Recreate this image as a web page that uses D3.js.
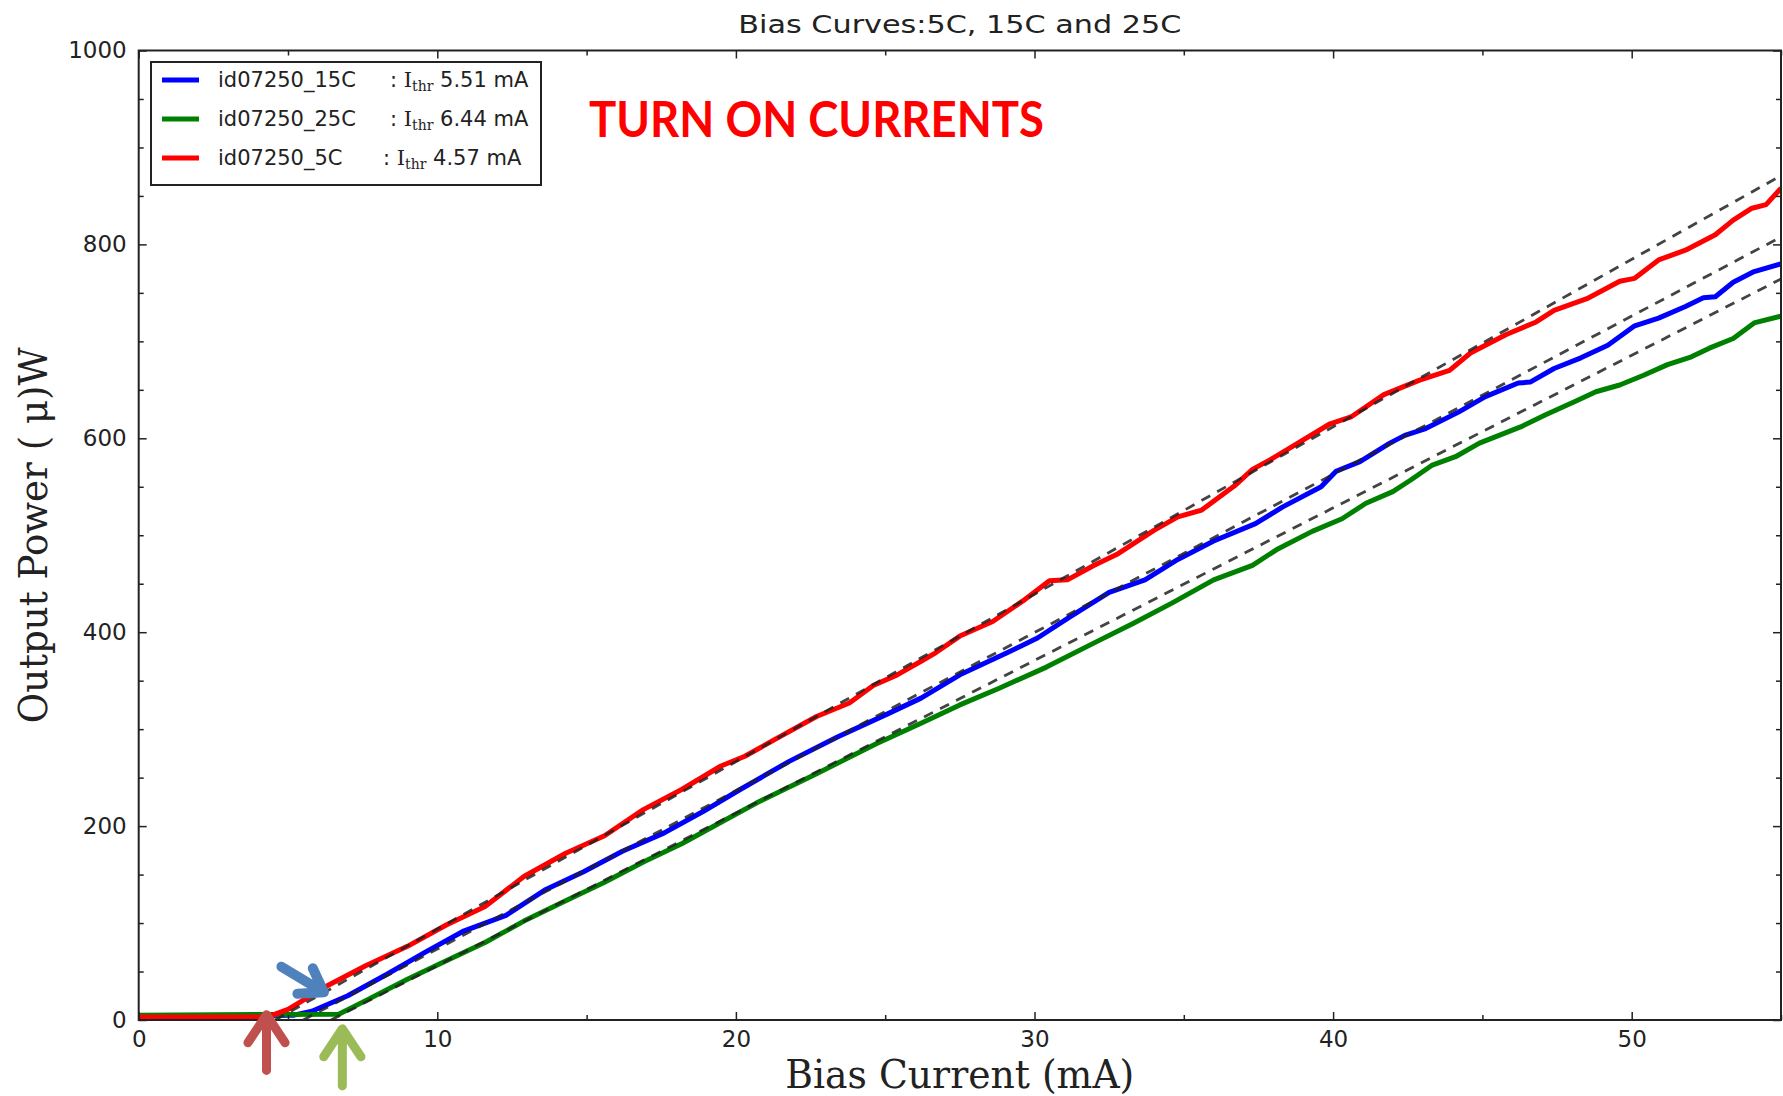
<!DOCTYPE html>
<html>
<head>
<meta charset="utf-8">
<script src="https://cdn.jsdelivr.net/npm/d3@7"></script>
<style>
  body { margin: 0; background: #fff; }
  svg { display: block; }
</style>
</head>
<body>
<svg id="chart" width="1783" height="1096"></svg>
<script>
// bias current (mA) and output power (uW)
var blueI = [0, 5.2, 5.8, 7.0, 8.3, 9.6, 10.9, 12.3, 13.6, 14.9, 16.2, 17.6, 18.9, 20.1, 21.8, 23.4, 25.1, 26.2, 27.5, 29.1, 30.1, 31.2, 32.5, 33.7, 34.8, 36.0, 37.4, 38.3, 39.6, 40.1, 40.9, 41.9, 42.4, 43.1, 44.2, 45.1, 46.2, 46.6, 47.4, 48.3, 49.2, 50.1, 50.9, 51.8, 52.4, 52.8, 53.4, 54.1, 55]
var blueP = [4, 5, 9, 25, 47, 70, 92, 108, 134, 153, 174, 193, 215, 237, 267, 292, 316, 332, 356, 379, 394, 416, 441, 454, 475, 494, 512, 529, 550, 566, 576, 595, 603, 610, 627, 643, 657, 658, 672, 683, 696, 716, 724, 736, 745, 746, 761, 772, 780]

var greenI = [0, 6.7, 7.6, 9.0, 10.3, 11.6, 12.9, 14.3, 15.6, 16.9, 18.2, 19.5, 20.7, 22.7, 24.7, 26.2, 27.5, 28.8, 30.4, 32.0, 33.3, 34.6, 36.0, 37.3, 38.1, 39.3, 40.3, 41.1, 42.0, 42.6, 43.3, 44.1, 44.9, 46.3, 47.1, 48.1, 48.8, 49.6, 50.4, 51.2, 52.0, 52.6, 53.4, 54.1, 55]
var greenP = [5, 6, 20, 42, 61, 80, 102, 123, 142, 163, 182, 204, 224, 254, 285, 306, 325, 342, 364, 389, 409, 430, 454, 469, 485, 504, 517, 533, 545, 557, 572, 581, 595, 612, 624, 638, 648, 655, 665, 676, 684, 693, 703, 719, 726]

var redI = [0, 4.3, 5.0, 6.3, 7.6, 9.0, 10.3, 11.6, 12.9, 14.3, 15.6, 16.9, 18.2, 19.5, 20.3, 21.4, 22.7, 23.8, 24.6, 25.4, 26.2, 26.7, 27.5, 28.6, 29.6, 30.5, 31.1, 32.0, 32.8, 34.0, 34.8, 35.6, 36.7, 37.3, 37.9, 38.6, 39.9, 40.6, 41.7, 42.9, 43.9, 44.6, 45.8, 46.8, 47.4, 48.5, 49.6, 50.1, 50.9, 51.8, 52.8, 53.4, 54.0, 54.5, 55]
var redP = [3, 3, 11, 35, 56, 76, 98, 117, 148, 172, 190, 217, 238, 262, 272, 291, 313, 327, 345, 356, 370, 379, 396, 411, 432, 453, 454, 469, 481, 505, 519, 526, 551, 568, 578, 591, 615, 622, 645, 660, 670, 688, 707, 720, 732, 744, 762, 765, 784, 794, 810, 825, 837, 841, 858]

var names = ['id07250_15C', 'id07250_25C', 'id07250_5C']
var thresholds = [5.51, 6.44, 4.57]
var fitSlopes = [16.32, 15.74, 17.27]
var colors = ['#0000ff', '#008000', '#ff0000']

var xTicks = [0, 5, 10, 15, 20, 25, 30, 35, 40, 45, 50, 55]
var xLabels = [0, 10, 20, 30, 40, 50]
var yTicks = d3.range(0, 1001, 50)
var yLabels = [0, 200, 400, 600, 800, 1000]

// annotation arrows: [tailI, tailP, tipI, tipP, colour]
var arrows = [
  [4.28, -52, 4.28, 7.5, '#c0504d'],
  [6.82, -68, 6.82, -7, '#9bbb59'],
  [4.78, 55, 6.26, 27.5, '#4f81bd']
]

var series = [
  blueI.map(function(d, i) { return [d, blueP[i]] }),
  greenI.map(function(d, i) { return [d, greenP[i]] }),
  redI.map(function(d, i) { return [d, redP[i]] })
]

var plotL = 138.7, plotR = 1781, plotT = 50.5, plotB = 1020

var x = d3.scaleLinear().domain([0, 55]).range([plotL, plotR])
var y = d3.scaleLinear().domain([0, 1000]).range([plotB, plotT])

var svg = d3.select('#chart')

svg.append('defs').append('clipPath').attr('id', 'plotclip')
  .append('rect')
    .attr('x', plotL).attr('y', plotT)
    .attr('width', plotR - plotL).attr('height', plotB - plotT)

var line = d3.line()
  .x(function(d) { return x(d[0]) })
  .y(function(d) { return y(d[1]) })

var plot = svg.append('g').attr('clip-path', 'url(#plotclip)')

plot.selectAll('path.curve')
  .data(series)
  .enter().append('path')
    .attr('class', 'curve')
    .attr('d', line)
    .attr('fill', 'none')
    .attr('stroke', function(d, i) { return colors[i] })
    .attr('stroke-width', 5)
    .attr('stroke-linejoin', 'round')

plot.selectAll('path.fit')
  .data(thresholds)
  .enter().append('path')
    .attr('class', 'fit')
    .attr('d', function(t, i) { return line([[t, 0], [55, fitSlopes[i] * (55 - t)]]) })
    .attr('fill', 'none')
    .attr('stroke', '#222')
    .attr('stroke-opacity', 0.85)
    .attr('stroke-width', 2.8)
    .attr('stroke-dasharray', '10,8')

// frame
svg.append('rect')
  .attr('x', plotL).attr('y', plotT)
  .attr('width', plotR - plotL).attr('height', plotB - plotT)
  .attr('fill', 'none')
  .attr('stroke', '#222')
  .attr('stroke-width', 2)

// inward ticks on all sides
function tickLen(v, labels, big, small) { return labels.indexOf(v) >= 0 ? big : small }

var bottomAxis = d3.axisBottom(x).tickValues(xTicks).tickSizeOuter(0)
  .tickSizeInner(-8).tickPadding(11)
  .tickFormat(function(d) { return xLabels.indexOf(d) >= 0 ? d : '' })
var gx = svg.append('g').attr('transform', 'translate(0,' + plotB + ')').call(bottomAxis)
gx.select('.domain').remove()
gx.selectAll('.tick line').attr('y2', function(d) { return -tickLen(d, xLabels, 8, 5) })

var topAxis = d3.axisTop(x).tickValues(xTicks).tickSizeOuter(0).tickFormat('')
var gxt = svg.append('g').attr('transform', 'translate(0,' + plotT + ')').call(topAxis)
gxt.select('.domain').remove()
gxt.selectAll('.tick line').attr('y2', function(d) { return tickLen(d, xLabels, 8, 5) })

var leftAxis = d3.axisLeft(y).tickValues(yTicks).tickSizeOuter(0)
  .tickFormat(function(d) { return yLabels.indexOf(d) >= 0 ? d : '' })
var gy = svg.append('g').attr('transform', 'translate(' + plotL + ',0)').call(leftAxis)
gy.select('.domain').remove()
gy.selectAll('.tick line').attr('x2', function(d) { return tickLen(d, yLabels, 8, 5) })

var rightAxis = d3.axisRight(y).tickValues(yTicks).tickSizeOuter(0).tickFormat('')
var gyr = svg.append('g').attr('transform', 'translate(' + plotR + ',0)').call(rightAxis)
gyr.select('.domain').remove()
gyr.selectAll('.tick line').attr('x2', function(d) { return -tickLen(d, yLabels, 8, 5) })

svg.selectAll('.tick line').attr('stroke', '#222').attr('stroke-width', 1.5)
svg.selectAll('.tick text')
  .attr('font-family', 'DejaVu Sans')
  .attr('font-size', 23)
  .attr('fill', '#222')
gy.selectAll('.tick text').attr('x', -12)

// title and axis labels
svg.append('text')
  .attr('x', (plotL + plotR) / 2).attr('y', 33)
  .attr('text-anchor', 'middle')
  .attr('font-family', 'DejaVu Sans').attr('font-size', 25)
  .attr('fill', '#222')
  .attr('textLength', 443).attr('lengthAdjust', 'spacingAndGlyphs')
  .text('Bias Curves:5C, 15C and 25C')

svg.append('text')
  .attr('x', (plotL + plotR) / 2).attr('y', 1088)
  .attr('text-anchor', 'middle')
  .attr('font-family', 'DejaVu Serif').attr('font-size', 39)
  .attr('fill', '#222')
  .attr('textLength', 349).attr('lengthAdjust', 'spacingAndGlyphs')
  .text('Bias Current (mA)')

svg.append('text')
  .attr('transform', 'translate(47,' + (plotT + plotB) / 2 + ') rotate(-90)')
  .attr('text-anchor', 'middle')
  .attr('font-family', 'DejaVu Serif').attr('font-size', 39)
  .attr('fill', '#222')
  .attr('textLength', 376).attr('lengthAdjust', 'spacingAndGlyphs')
  .text('Output Power ( \u03bc)W')

svg.append('text')
  .attr('x', 589).attr('y', 137)
  .attr('font-family', 'Lato').attr('font-weight', 'bold').attr('font-size', 50)
  .attr('fill', '#ff0000')
  .attr('textLength', 455).attr('lengthAdjust', 'spacingAndGlyphs')
  .text('TURN ON CURRENTS')

// legend
var legend = svg.append('g')
legend.append('rect')
  .attr('x', 151).attr('y', 62).attr('width', 390).attr('height', 123)
  .attr('fill', '#fff').attr('stroke', '#222').attr('stroke-width', 2)

var rows = legend.selectAll('g.row')
  .data(names)
  .enter().append('g')
    .attr('class', 'row')
    .attr('transform', function(d, i) { return 'translate(0,' + (80 + i * 39) + ')' })

rows.append('line')
  .attr('x1', 162).attr('x2', 199)
  .attr('stroke', function(d, i) { return colors[i] })
  .attr('stroke-width', 5)

rows.append('text')
  .attr('x', 218).attr('y', 7)
  .attr('font-family', 'DejaVu Sans').attr('font-size', 21)
  .attr('fill', '#222')
  .text(function(d) { return d })

var thrText = rows.append('text')
  .attr('x', function(d, i) { return i === 2 ? 383 : 390 }).attr('y', 7)
  .attr('font-size', 21).attr('fill', '#222')
thrText.append('tspan').attr('font-family', 'DejaVu Sans').text(': ')
thrText.append('tspan').attr('font-family', 'DejaVu Serif').text('I')
thrText.append('tspan').attr('font-family', 'DejaVu Serif').attr('font-size', 14).attr('dy', 4).text('thr')
thrText.append('tspan').attr('font-family', 'DejaVu Sans').attr('dy', -4)
  .text(function(d, i) { return ' ' + thresholds[i].toFixed(2) + ' mA' })

// arrows
var arrowG = svg.append('g').selectAll('g')
  .data(arrows)
  .enter().append('g')

arrowG.each(function(a) {
  var x0 = x(a[0]), y0 = y(a[1]), x1 = x(a[2]), y1 = y(a[3])
  var ang = Math.atan2(y1 - y0, x1 - x0)
  var len = Math.hypot(x1 - x0, y1 - y0)
  var blue = a[4] === '#4f81bd'
  var head = blue ? 24 : 30
  var g = d3.select(this)
    .attr('transform', 'translate(' + x0 + ',' + y0 + ') rotate(' + ang * 180 / Math.PI + ')')
  g.append('path')
    .attr('d', 'M0,0 L' + (len - 4) + ',0 M' + (len - head) + ',' + (-head * 0.62) + ' L' + (len - 2) + ',0 L' + (len - head) + ',' + (head * 0.62))
    .attr('fill', 'none')
    .attr('stroke', a[4])
    .attr('stroke-width', blue ? 10 : 9)
    .attr('stroke-linecap', 'round')
    .attr('stroke-linejoin', 'round')
})
</script>
</body>
</html>
